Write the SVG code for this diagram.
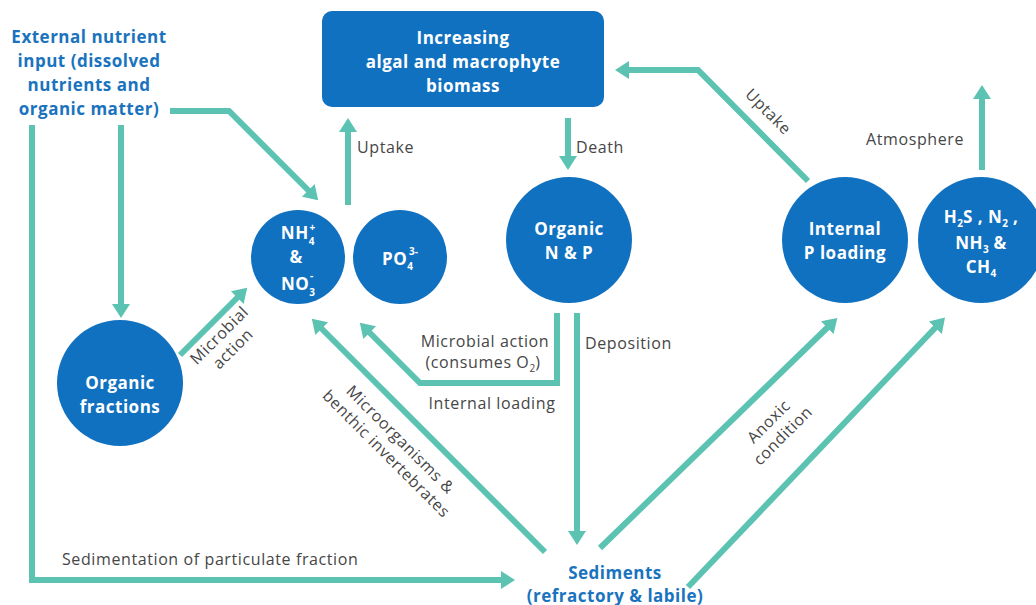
<svg xmlns="http://www.w3.org/2000/svg" width="1036" height="605" viewBox="0 0 1036 605">
<style>
.c{fill:none;stroke:#5cc3b3;stroke-width:6;stroke-linejoin:miter}
.n{fill:#1071c0}
.w{fill:#fff;font-family:"Open Sans",sans-serif;font-weight:700;font-size:17px;letter-spacing:0.5px;text-anchor:middle}
.h{fill:#1a73be;font-family:"Open Sans",sans-serif;font-weight:700;font-size:17px;letter-spacing:0.5px;text-anchor:middle}
.g{fill:#464646;font-family:"Open Sans",sans-serif;font-size:16px;letter-spacing:0.6px}
.s{font-size:10px;letter-spacing:0}
</style>
<defs>
<marker id="a" markerUnits="userSpaceOnUse" markerWidth="16" markerHeight="20" refX="1" refY="10" orient="auto">
<path d="M0,1 L14,10 L0,19 z" fill="#5cc3b3"/>
</marker>
</defs>
<g id="connectors">
<path class="c" d="M170,111 H229 L309,191" marker-end="url(#a)"/>
<path class="c" d="M121,125 V305" marker-end="url(#a)"/>
<path class="c" d="M32,125 V580 H502" marker-end="url(#a)"/>
<path class="c" d="M180,355 L238,297" marker-end="url(#a)"/>
<path class="c" d="M348,205 V131" marker-end="url(#a)"/>
<path class="c" d="M568,118 V157" marker-end="url(#a)"/>
<path class="c" d="M808,181 L698,70 H628" marker-end="url(#a)"/>
<path class="c" d="M982,170 V98" marker-end="url(#a)"/>
<path class="c" d="M557,313 V383 H420 L369,332" marker-end="url(#a)"/>
<path class="c" d="M577,313 V532" marker-end="url(#a)"/>
<path class="c" d="M545,552 L321,328" marker-end="url(#a)"/>
<path class="c" d="M600,548 L828,327" marker-end="url(#a)"/>
<path class="c" d="M688,587 L936,327" marker-end="url(#a)"/>
</g>
<g id="labels">
<text class="g" x="357" y="153">Uptake</text>
<text class="g" x="576" y="153">Death</text>
<text class="g" x="866" y="145">Atmosphere</text>
<text class="g" x="585" y="349">Deposition</text>
<text class="g" x="485" y="347" text-anchor="middle">Microbial action</text>
<text class="g" x="483" y="368" text-anchor="middle">(consumes O<tspan class="s" dy="4">2</tspan><tspan dy="-4">)</tspan></text>
<text class="g" x="492" y="409" text-anchor="middle">Internal loading</text>
<text class="g" x="62" y="565">Sedimentation of particulate fraction</text>
<g transform="translate(226,342) rotate(-45)"><text class="g" text-anchor="middle" y="-4">Microbial</text><text class="g" text-anchor="middle" y="15">action</text></g>
<g transform="translate(768,112) rotate(45)"><text class="g" text-anchor="middle" y="5">Uptake</text></g>
<g transform="translate(393,447) rotate(45)"><text class="g" text-anchor="middle" y="-5">Microorganisms &amp;</text><text class="g" text-anchor="middle" y="15">benthic invertebrates</text></g>
<g transform="translate(776,429) rotate(-45)"><text class="g" text-anchor="middle" y="-5">Anoxic</text><text class="g" text-anchor="middle" y="15">condition</text></g>
</g>
<g id="external">
<text class="h" x="89" y="43">External nutrient</text>
<text class="h" x="89" y="67">input (dissolved</text>
<text class="h" x="89" y="91">nutrients and</text>
<text class="h" x="89" y="115">organic matter)</text>
</g>
<g id="biomass">
<rect class="n" x="322" y="11" width="282" height="96" rx="10"/>
<text class="w" x="463" y="44">Increasing</text>
<text class="w" x="463" y="68">algal and macrophyte</text>
<text class="w" x="463" y="92">biomass</text>
</g>
<g id="nh4">
<circle class="n" cx="298" cy="257" r="47"/>
<text class="w" x="298" y="239">NH<tspan class="s" dy="6">4</tspan><tspan class="s" dx="-5" dy="-14">+</tspan></text>
<text class="w" x="296" y="263">&amp;</text>
<text class="w" x="298" y="290">NO<tspan class="s" dy="6">3</tspan><tspan class="s" dx="-5" dy="-17">-</tspan></text>
</g>
<g id="po4">
<circle class="n" cx="400" cy="257" r="47"/>
<text class="w" x="400" y="265">PO<tspan class="s" dy="5">4</tspan><tspan class="s" dx="-4" dy="-15">3-</tspan></text>
</g>
<g id="organic-np">
<circle class="n" cx="569" cy="240" r="63"/>
<text class="w" x="569" y="235">Organic</text>
<text class="w" x="569" y="259">N &amp; P</text>
</g>
<g id="internal-p">
<circle class="n" cx="845" cy="240" r="63"/>
<text class="w" x="845" y="235">Internal</text>
<text class="w" x="845" y="259">P loading</text>
</g>
<g id="gases">
<circle class="n" cx="981" cy="240" r="63"/>
<text class="w" x="981" y="223">H<tspan class="s" dy="4">2</tspan><tspan dy="-4">S , N</tspan><tspan class="s" dy="4">2</tspan><tspan dy="-4"> ,</tspan></text>
<text class="w" x="981" y="249">NH<tspan class="s" dy="4">3</tspan><tspan dy="-4"> &amp;</tspan></text>
<text class="w" x="981" y="273">CH<tspan class="s" dy="4">4</tspan></text>
</g>
<g id="organic-fractions">
<circle class="n" cx="120" cy="383" r="63"/>
<text class="w" x="120" y="389">Organic</text>
<text class="w" x="120" y="413">fractions</text>
</g>
<g id="sediments">
<text class="h" x="615" y="579">Sediments</text>
<text class="h" x="615" y="602">(refractory &amp; labile)</text>
</g>
</svg>
